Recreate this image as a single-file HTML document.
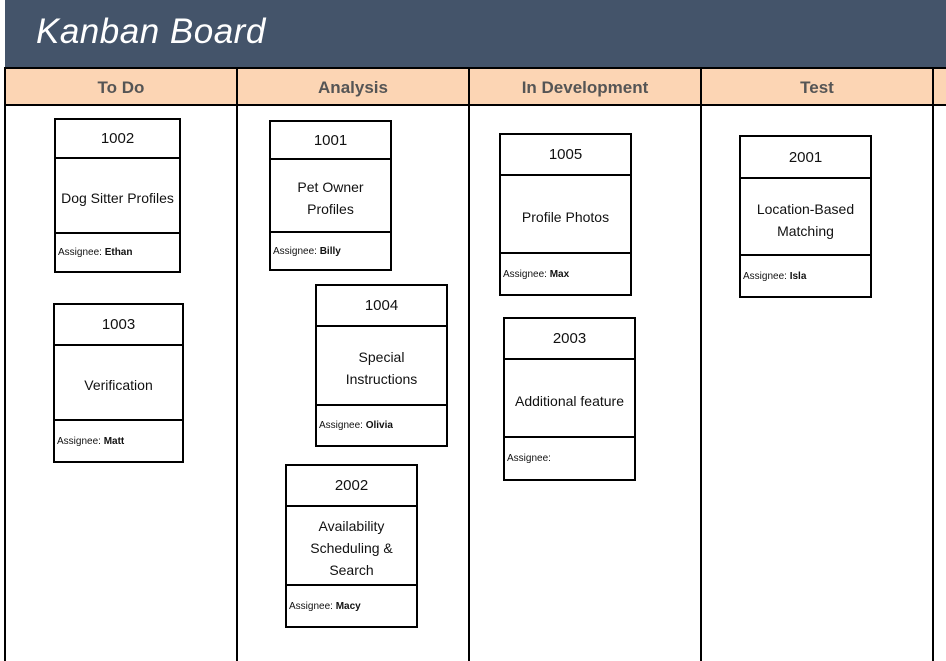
<!DOCTYPE html>
<html><head><style>
body{margin:0;width:946px;height:661px;position:relative;overflow:hidden;background:#fff;font-family:"Liberation Sans",sans-serif;}
.hdr{position:absolute;left:5px;top:0;width:941px;height:68px;background:#44546a;}
.title{position:absolute;left:36px;top:12px;color:#fff;font-size:35px;font-style:italic;letter-spacing:0.5px;}
.ch{position:absolute;top:67px;height:35px;background:#fcd5b4;border-top:2px solid #000;border-bottom:2px solid #000;}
.ch span{display:block;text-align:center;line-height:37px;font-weight:bold;color:#555;font-size:17px;}
.vl{position:absolute;top:67px;width:2px;height:594px;background:#000;}
.c{position:absolute;border:2px solid #000;box-sizing:border-box;background:#fff;}
.c div{position:absolute;left:0;right:0;display:flex;align-items:center;justify-content:center;text-align:center;color:#111;}
.c .n{top:0;font-size:15px;border-bottom:2px solid #000;}
.c .t{font-size:14px;line-height:22px;}
.c .a{justify-content:flex-start;font-size:10px;padding-left:2px;border-top:2px solid #000;bottom:0;}
</style></head><body>
<div class="hdr"></div><div class="title">Kanban Board</div>
<div class="ch" style="left:5px;width:941px"></div>
<div class="ch" style="left:5px;width:232px"><span>To Do</span></div>
<div class="ch" style="left:237px;width:232px"><span>Analysis</span></div>
<div class="ch" style="left:469px;width:232px"><span>In Development</span></div>
<div class="ch" style="left:701px;width:232px"><span>Test</span></div>
<div class="vl" style="left:4px"></div><div class="vl" style="left:236px"></div><div class="vl" style="left:468px"></div><div class="vl" style="left:700px"></div><div class="vl" style="left:932px"></div>

<div class="c" style="left:54px;top:118px;width:127px;height:155px"><div class="n" style="height:37px">1002</div><div class="t" style="top:39px;height:77px">Dog Sitter Profiles</div><div class="a" style="height:37px">Assignee:&nbsp;<b>Ethan</b></div></div>
<div class="c" style="left:269px;top:120px;width:123px;height:151px"><div class="n" style="height:36px">1001</div><div class="t" style="top:38px;height:75px">Pet Owner<br>Profiles</div><div class="a" style="height:36px">Assignee:&nbsp;<b>Billy</b></div></div>
<div class="c" style="left:315px;top:284px;width:133px;height:163px"><div class="n" style="height:39px">1004</div><div class="t" style="top:41px;height:81px">Special<br>Instructions</div><div class="a" style="height:39px">Assignee:&nbsp;<b>Olivia</b></div></div>
<div class="c" style="left:285px;top:464px;width:133px;height:164px"><div class="n" style="height:39px">2002</div><div class="t" style="top:41px;height:81px">Availability<br>Scheduling &amp;<br>Search</div><div class="a" style="height:40px">Assignee:&nbsp;<b>Macy</b></div></div>
<div class="c" style="left:53px;top:303px;width:131px;height:160px"><div class="n" style="height:39px">1003</div><div class="t" style="top:41px;height:78px">Verification</div><div class="a" style="height:40px">Assignee:&nbsp;<b>Matt</b></div></div>
<div class="c" style="left:499px;top:133px;width:133px;height:163px"><div class="n" style="height:39px">1005</div><div class="t" style="top:41px;height:81px">Profile Photos</div><div class="a" style="height:40px">Assignee:&nbsp;<b>Max</b></div></div>
<div class="c" style="left:503px;top:317px;width:133px;height:164px"><div class="n" style="height:39px">2003</div><div class="t" style="top:41px;height:81px">Additional feature</div><div class="a" style="height:41px">Assignee:</div></div>
<div class="c" style="left:739px;top:135px;width:133px;height:163px"><div class="n" style="height:40px">2001</div><div class="t" style="top:42px;height:81px">Location-Based<br>Matching</div><div class="a" style="height:40px">Assignee:&nbsp;<b>Isla</b></div></div>
</body></html>
